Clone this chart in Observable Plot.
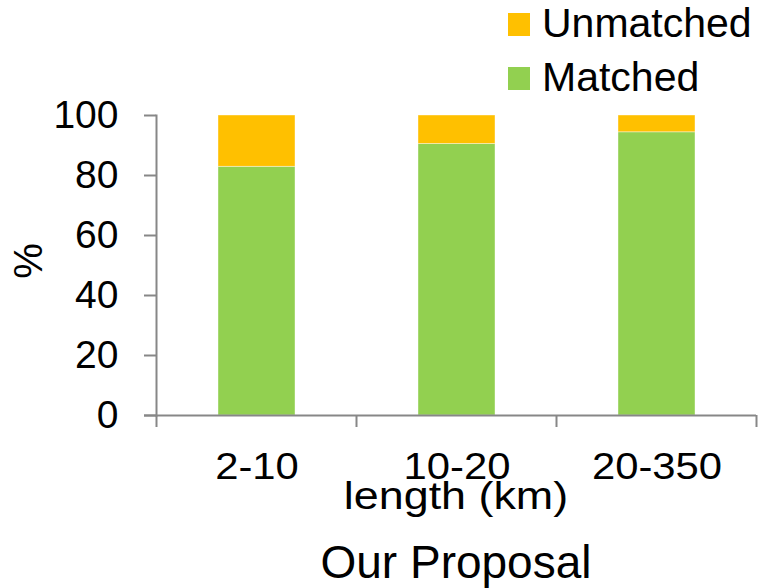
<!DOCTYPE html>
<html>
<head>
<meta charset="utf-8">
<script src="https://cdn.jsdelivr.net/npm/d3@7"></script>
<script src="https://cdn.jsdelivr.net/npm/@observablehq/plot@0.6"></script>
<style>
  html, body { margin: 0; padding: 0; background: #fff; }
  svg { font-family: "Liberation Sans", Arial, sans-serif; }
</style>
</head>
<body>
<script>
// ---- data ----
const categories = ["2-10", "10-20", "20-350"];
const matched = [82.9, 90.5, 94.4];
const unmatched = [17.1, 9.5, 5.6];
const seriesNames = ["Unmatched", "Matched"];
const seriesColors = ["#FFC000", "#92D050"];
const yTicks = [0, 20, 40, 60, 80, 100];
const yLabel = "%";
const xLabel = "length (km)";
const title = "Our Proposal";

const rows = [];
categories.forEach((c, i) => {
  rows.push({cat: c, series: "Matched", value: matched[i]});
  rows.push({cat: c, series: "Unmatched", value: unmatched[i]});
});

const gray = "#878787";
const W = 761, H = 588;
const mL = 156, mR = 5, mT = 115, mB = 173;

const chart = Plot.plot({
  width: W,
  height: H,
  marginLeft: mL,
  marginRight: mR,
  marginTop: mT,
  marginBottom: mB,
  style: {fontFamily: '"Liberation Sans", Arial, sans-serif', color: "#000", background: "#fff"},
  x: {domain: categories, paddingInner: 0.615, paddingOuter: 0.3075, label: null},
  y: {domain: [0, 100], label: null},
  color: {domain: seriesNames, range: seriesColors},
  marks: [
    Plot.barY(rows, {x: "cat", y: "value", fill: "series", stroke: "#ffffff", strokeOpacity: 0.5, strokeWidth: 0.8}),
    Plot.frame({anchor: "left", stroke: gray, strokeWidth: 2, strokeOpacity: 1}),
    Plot.ruleY([0], {stroke: gray, strokeWidth: 2, insetLeft: -12}),
    Plot.axisY({ticks: yTicks, tickSize: 12, tickPadding: 26, fontSize: 39, label: null, stroke: gray, strokeWidth: 2, fill: "#000"}),
    Plot.axisX({tickSize: 0, tickPadding: 37, fontSize: 37, label: null, fill: "#000"})
  ]
});

document.body.appendChild(chart);

const svg = d3.select(chart);
svg.selectAll("[aria-label='y-axis tick'] path").attr("stroke", gray).attr("stroke-width", 2).attr("stroke-opacity", 1);

// boundary tick marks on x axis, from the band scale
const xs = chart.scale("x");
const bw = xs.bandwidth, step = xs.step;
const gap = (step - bw) / 2;
const bounds = categories.map(c => xs.apply(c) - gap);
bounds.push(xs.apply(categories[categories.length - 1]) + bw + gap);
const y0 = chart.scale("y").apply(0);
svg.append("g").selectAll("line").data(bounds).join("line")
  .attr("x1", d => d).attr("x2", d => d)
  .attr("y1", y0).attr("y2", y0 + 12)
  .attr("stroke", gray).attr("stroke-width", 2);

// stretch the x tick labels slightly (reference glyphs are wider)
svg.selectAll("[aria-label='x-axis tick label'] text").each(function() {
  const w = this.getComputedTextLength();
  d3.select(this).attr("textLength", w * 1.13).attr("lengthAdjust", "spacingAndGlyphs");
});

const cx = (mL + (W - mR)) / 2;

// y label
svg.append("text")
  .attr("transform", `translate(28,${(mT + (H - mB)) / 2 - 4}) rotate(-90)`)
  .attr("text-anchor", "middle").attr("dominant-baseline", "central")
  .attr("font-size", 40).attr("fill", "#000").text(yLabel);

// x label
const xl = svg.append("text")
  .attr("x", cx).attr("y", 509)
  .attr("text-anchor", "middle")
  .attr("font-size", 38).attr("fill", "#000").text(xLabel);
{
  const w = xl.node().getComputedTextLength();
  xl.attr("textLength", w * 1.18).attr("lengthAdjust", "spacingAndGlyphs");
}

// title under chart
svg.append("text")
  .attr("x", cx).attr("y", 578)
  .attr("text-anchor", "middle")
  .attr("font-size", 46).attr("fill", "#000").text(title);

// legend
const lg = svg.append("g").attr("text-anchor", "start");
seriesNames.forEach((s, i) => {
  const g = lg.append("g").attr("transform", `translate(508,${13 + i * 54})`);
  g.append("rect").attr("width", 22).attr("height", 23).attr("fill", seriesColors[i]);
  g.append("text").attr("x", 34).attr("y", 24).attr("text-anchor", "start")
    .attr("font-size", 41).attr("fill", "#000").text(s);
});
</script>
</body>
</html>
